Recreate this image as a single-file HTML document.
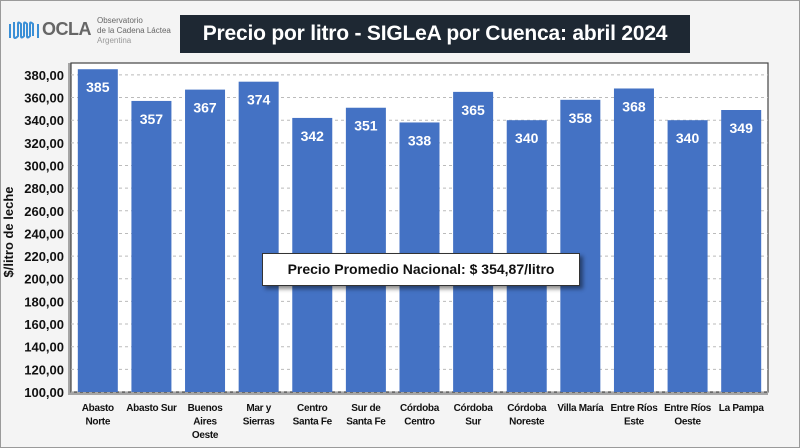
<!DOCTYPE html>
<html><head><meta charset="utf-8"><style>
body{margin:0;width:800px;height:448px;overflow:hidden;background:#fff;font-family:"Liberation Sans",sans-serif}
#slide{position:absolute;left:0;top:0;width:798px;height:446px;border:1px solid #9a9a9a;background:#f4f4f4}
#logo{position:absolute;left:8px;top:18px;font-weight:bold}
#title{position:absolute;left:180px;top:15px;width:510px;height:38px;background:#1e2833;color:#fff;font-size:21px;font-weight:bold;line-height:38px;text-align:center;white-space:nowrap;letter-spacing:-0.2px}
svg{position:absolute;left:0;top:0}
#avg{position:absolute;left:262px;top:253px;width:316px;height:31px;background:#fff;border:1px solid #333;box-shadow:3px 3px 4px rgba(0,0,0,.45);font-size:14px;font-weight:bold;line-height:31px;text-align:center;color:#111;white-space:nowrap}
</style></head><body>
<div id="slide"></div>
<div id="logo">
<svg width="40" height="24" style="left:0;top:0;position:absolute"><path d="M2 20V6M6 4v14q0 4 4 0V6q0-3 3 0v12q0 3 3 0V6q0-3 3 0v12q0 3 3 0V6q0-3 3 0v12M30 6v14" stroke="#3a8fd6" stroke-width="2" fill="none"/></svg>
<div style="position:absolute;left:34px;top:1px;font-size:18px;color:#666;letter-spacing:-0.5px">OCLA</div>
<div style="position:absolute;left:89px;top:-2px;font-size:8px;font-weight:normal;color:#666;line-height:10px;white-space:nowrap">Observatorio<br>de la Cadena Láctea<br><span style="color:#999">Argentina</span></div>
</div>
<div id="title">Precio por litro - SIGLeA por Cuenca: abril 2024</div>
<svg id="chart" width="800" height="448"></svg>
<div id="avg">Precio Promedio Nacional: $ 354,87/litro</div>
<script>
const categories=[["Abasto","Norte"],["Abasto Sur"],["Buenos","Aires","Oeste"],["Mar y","Sierras"],["Centro","Santa Fe"],["Sur de","Santa Fe"],["Córdoba","Centro"],["Córdoba","Sur"],["Córdoba","Noreste"],["Villa María"],["Entre Ríos","Este"],["Entre Ríos","Oeste"],["La Pampa"]];
const values=[385,357,367,374,342,351,338,365,340,358,368,340,349];
const yTicks=[100,120,140,160,180,200,220,240,260,280,300,320,340,360,380];
const svg=document.getElementById('chart');const NS='http://www.w3.org/2000/svg';
const L=71,R=768,T=63,B=392,ymin=100,ymax=390.5;
const y=v=>B-(v-ymin)*(B-T)/(ymax-ymin);
const bw=(R-L)/categories.length;const x=i=>L+bw*i+bw/2;
function mk(t,a){const e=document.createElementNS(NS,t);for(const k in a)e.setAttribute(k,a[k]);svg.appendChild(e);return e;}
let f=mk('rect',{x:L-3,y:T,width:R-L+3,height:B-T+3,fill:'#555',opacity:.5});


f=mk('rect',{x:L,y:T,width:R-L,height:B-T,fill:'#fff',stroke:'#444','stroke-width':1.2});


yTicks.forEach(v=>{
 const g=mk('line',{x1:L,x2:R,y1:y(v),y2:y(v),stroke:'#bbb','stroke-dasharray':'3,3'});
 
 
 const t=mk('text',{x:64,y:y(v)+5,'text-anchor':'end','font-size':13,'font-weight':'bold',fill:'#111'});
 t.textContent=v.toFixed(2).replace('.',',');
 
 
});
values.forEach((v,i)=>{
 const r=mk('rect',{x:x(i)-20,y:y(v),width:40,height:B-y(v),fill:'#4472c4'});
 
 
 const t=mk('text',{x:x(i),y:y(v)+23,'text-anchor':'middle','font-size':14,'font-weight':'bold',fill:'#fff'});
 t.textContent=v;
 
 
 categories[i].forEach((s,j)=>{
  const c=mk('text',{x:x(i),y:411+j*13.5,'text-anchor':'middle','font-size':10,'font-weight':'bold',fill:'#111','letter-spacing':'-0.3'});
  c.textContent=s;
  
  
 });
});
const yt=mk('text',{transform:'translate(13,232) rotate(-90)','text-anchor':'middle','font-size':13,'font-weight':'bold',fill:'#111'});
yt.textContent='$/litro de leche';


</script>
</body></html>
